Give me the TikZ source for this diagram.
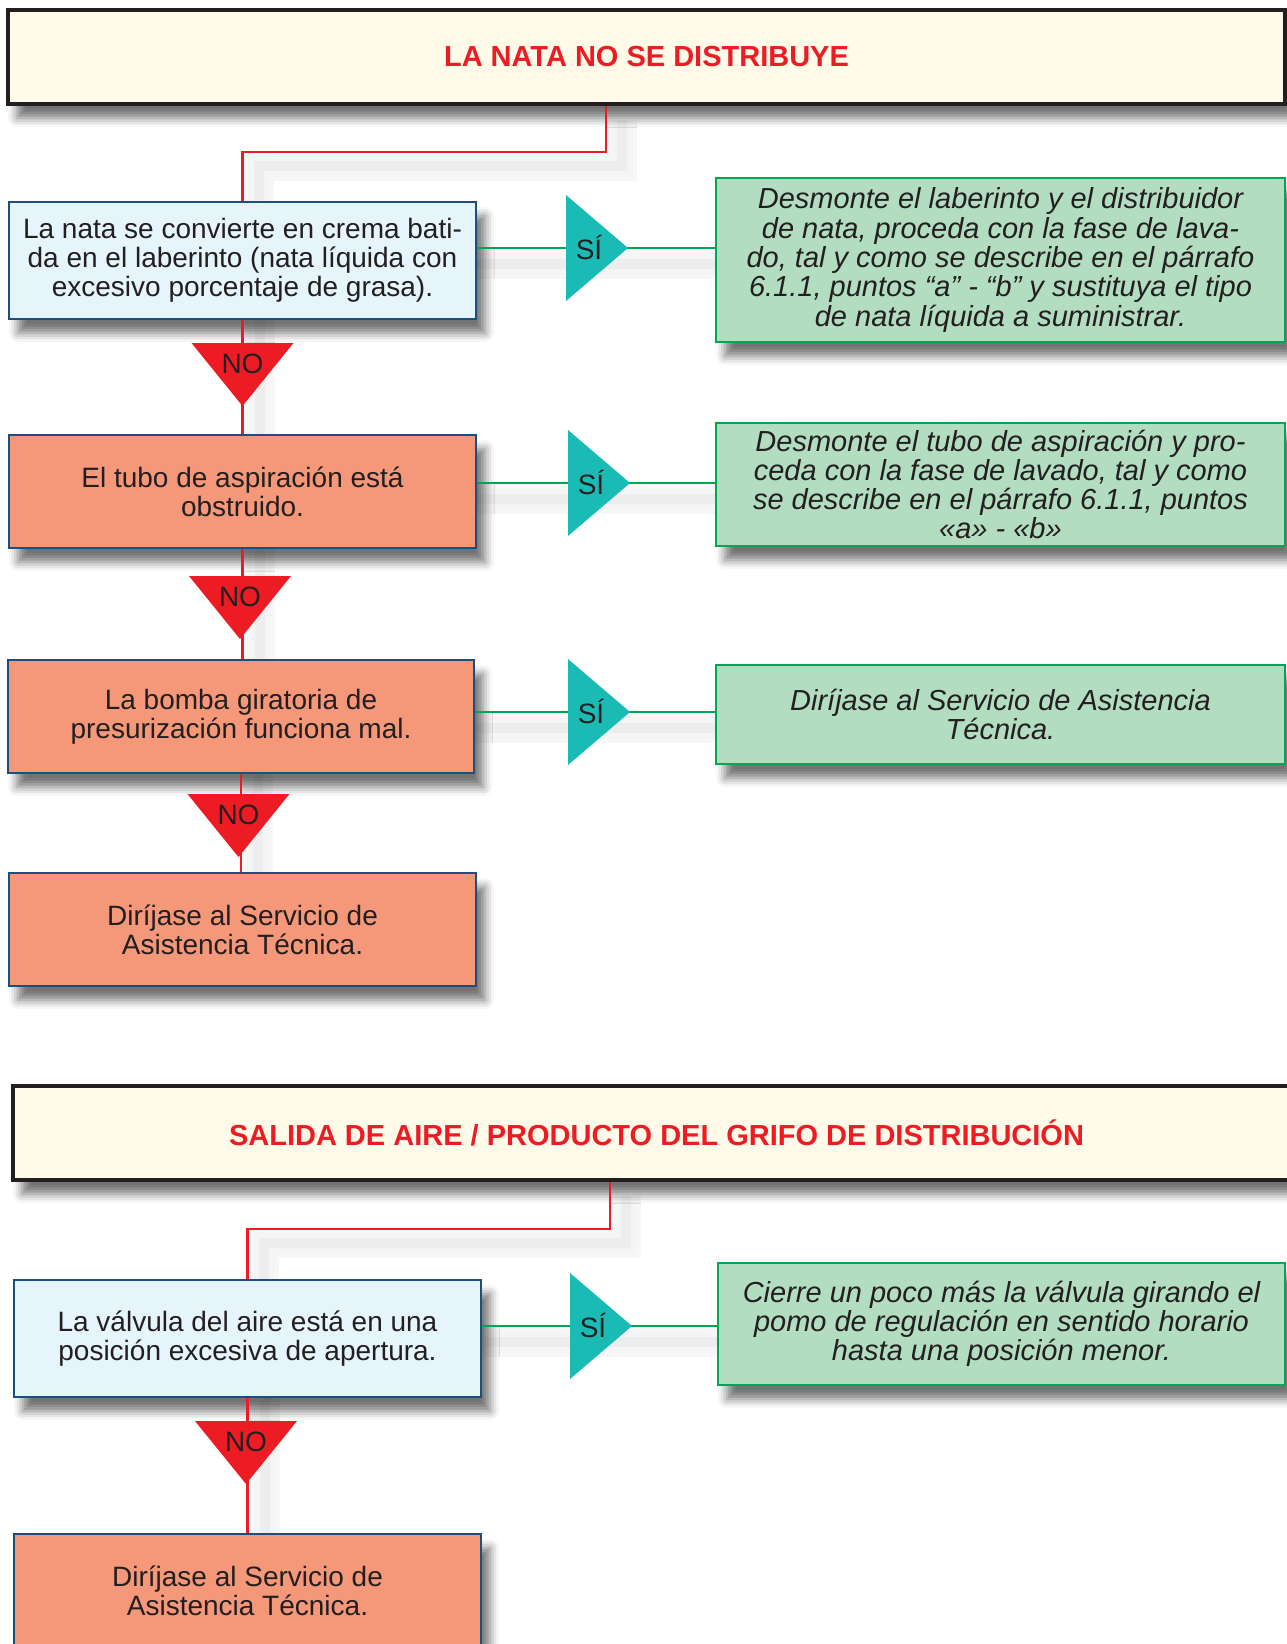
\documentclass[tikz,border=0pt]{standalone}
\usepackage{fontspec}
\setmainfont{Liberation Sans}
\usetikzlibrary{shadows.blur}

\definecolor{txt}{HTML}{231F20}
\definecolor{hred}{HTML}{ED1C24}
\definecolor{cream}{HTML}{FFFBE8}
\definecolor{qblue}{HTML}{E6F4FB}
\definecolor{qframe}{HTML}{1B4F7F}
\definecolor{salmon}{HTML}{F5987A}
\definecolor{agreen}{HTML}{B3DDC0}
\definecolor{gframe}{HTML}{00A651}
\definecolor{teal}{HTML}{1ABBB4}
\pgfdeclarelayer{bg}
\pgfsetlayers{bg,main}

\begin{document}
\begin{tikzpicture}[x=1pt,y=-1pt,text=txt,
 sh/.style={blur shadow={shadow xshift=9pt,shadow yshift=-14pt,shadow blur radius=9pt,shadow opacity=55}},
 hdr/.style={draw=txt,line width=4pt,fill=cream,sh,minimum width=1277pt,minimum height=94pt,
   font=\fontsize{29}{32}\selectfont\bfseries,text=hred},
 q/.style={draw=qframe,line width=2.8pt,fill=qblue,sh,minimum width=467pt,align=center,
   inner sep=2pt,font=\fontsize{28}{29}\selectfont},
 qs/.style={q,fill=salmon},
 act/.style={draw=gframe,line width=2.8pt,fill=agreen,sh,minimum width=569pt,align=center,
   inner sep=1pt,font=\fontsize{29}{29.3}\selectfont\itshape},
 rl/.style={draw=hred,line width=2.8pt},
 gl/.style={draw=gframe,line width=2.8pt},
 lsh/.style={draw=black!4,line width=22pt,preaction={draw=black!3,line width=30pt},
   postaction={draw=black!7,line width=10pt}},
 lbl/.style={font=\fontsize{28}{29}\selectfont,inner sep=0pt}]
\useasboundingbox (0,0) rectangle (1287,1644);

\coordinate (j1) at (606,152);
\coordinate (j2) at (610,1229);
\coordinate (s1) at (566,248);
\coordinate (s2) at (568,483);
\coordinate (s3) at (568,712);
\coordinate (s4) at (570,1326);

% boxes
\node[hdr] (h1) at (646.5,57) {LA NATA NO SE DISTRIBUYE};
\node[q,minimum height=117pt] (b1) at (242.5,260.5)
  {La nata se convierte en crema bati-\\da en el laberinto (nata líquida con\\excesivo porcentaje de grasa).};
\node[qs,minimum height=113pt] (b2) at (242.5,491.5) {El tubo de aspiración está\\obstruido.};
\node[qs,minimum height=113pt,minimum width=466pt] (b3) at (241,716.5) {La bomba giratoria de\\presurización funciona mal.};
\node[qs,minimum height=113pt] (b4) at (242.5,929.5) {Diríjase al Servicio de\\Asistencia Técnica.};
\node[act,minimum height=164pt] (g1) at (1000.5,260)
  {Desmonte el laberinto y el distribuidor\\de nata, proceda con la fase de lava-\\do, tal y como se describe en el párrafo\\6.1.1, puntos “a” - “b” y sustituya el tipo\\de nata líquida a suministrar.};
\node[act,minimum height=123pt] (g2) at (1000.5,484.5)
  {Desmonte el tubo de aspiración y pro-\\ceda con la fase de lavado, tal y como\\se describe en el párrafo 6.1.1, puntos\\«a» - «b»};
\node[act,minimum height=99pt] (g3) at (1000.5,714.5) {Diríjase al Servicio de Asistencia\\Técnica.};

\node[hdr,minimum width=1287pt] (h2) at (656.5,1133) {SALIDA DE AIRE / PRODUCTO DEL GRIFO DE DISTRIBUCIÓN};
\node[q,minimum height=117pt] (b5) at (247.5,1338.5) {La válvula del aire está en una\\posición excesiva de apertura.};
\node[qs,minimum height=113pt] (b6) at (247.5,1590.5) {Diríjase al Servicio de\\Asistencia Técnica.};
\node[act,minimum height=122pt,minimum width=567pt] (g4) at (1001.5,1324)
  {Cierre un poco más la válvula girando el\\pomo de regulación en sentido horario\\hasta una posición menor.};

% line shadows, behind everything
\begin{pgfonlayer}{bg}
\foreach \p/\t/\b in {h1/j1/b1,h2/j2/b5}
  \draw[lsh] ([shift={(16,14)}]\p.south -| \t) -- ([shift={(16,14)}]\t) -| ([shift={(16,14)}]\b.north);
\foreach \a/\b in {b1/b2,b2/b3,b3/b4,b5/b6}
  \draw[lsh] ([xshift=17]\a.south) -- ([xshift=17]\a.south |- \b.north);
\foreach \a/\s/\g in {b1/s1/g1,b2/s2/g2,b3/s3/g3,b5/s4/g4}
  \draw[lsh] ([yshift=-16]\a.east |- \s) -- ([yshift=-16]\g.west |- \s);
\end{pgfonlayer}

% connectors
\foreach \p/\t/\b in {h1/j1/b1,h2/j2/b5}
  \draw[rl] (\p.south -| \t) -- (\t) -| (\b.north);
\foreach \a/\b in {b1/b2,b2/b3,b3/b4,b5/b6}
  \draw[rl] (\a.south) -- (\a.south |- \b.north);
\foreach \a/\s/\g in {b1/s1/g1,b2/s2/g2,b3/s3/g3,b5/s4/g4}
  \draw[gl] (\a.east |- \s) -- (\g.west |- \s);

% SI / NO marks
\foreach \s in {s1,s2,s3,s4} {
  \fill[teal] ([yshift=53]\s) -- ([xshift=62]\s) -- ([yshift=-53]\s) -- cycle;
  \node[lbl] (\s t) at ([xshift=23,yshift=1]\s) {SÍ};
}
\foreach \n/\x/\y in {1/242.5/343,2/240/576,3/238.5/794,4/246/1421} {
  \fill[hred] (\x-51,\y) -- (\x+51,\y) -- (\x,\y+63) -- cycle;
  \node[lbl] (no\n) at (\x,\y+21) {NO};
}
\end{tikzpicture}
\end{document}
